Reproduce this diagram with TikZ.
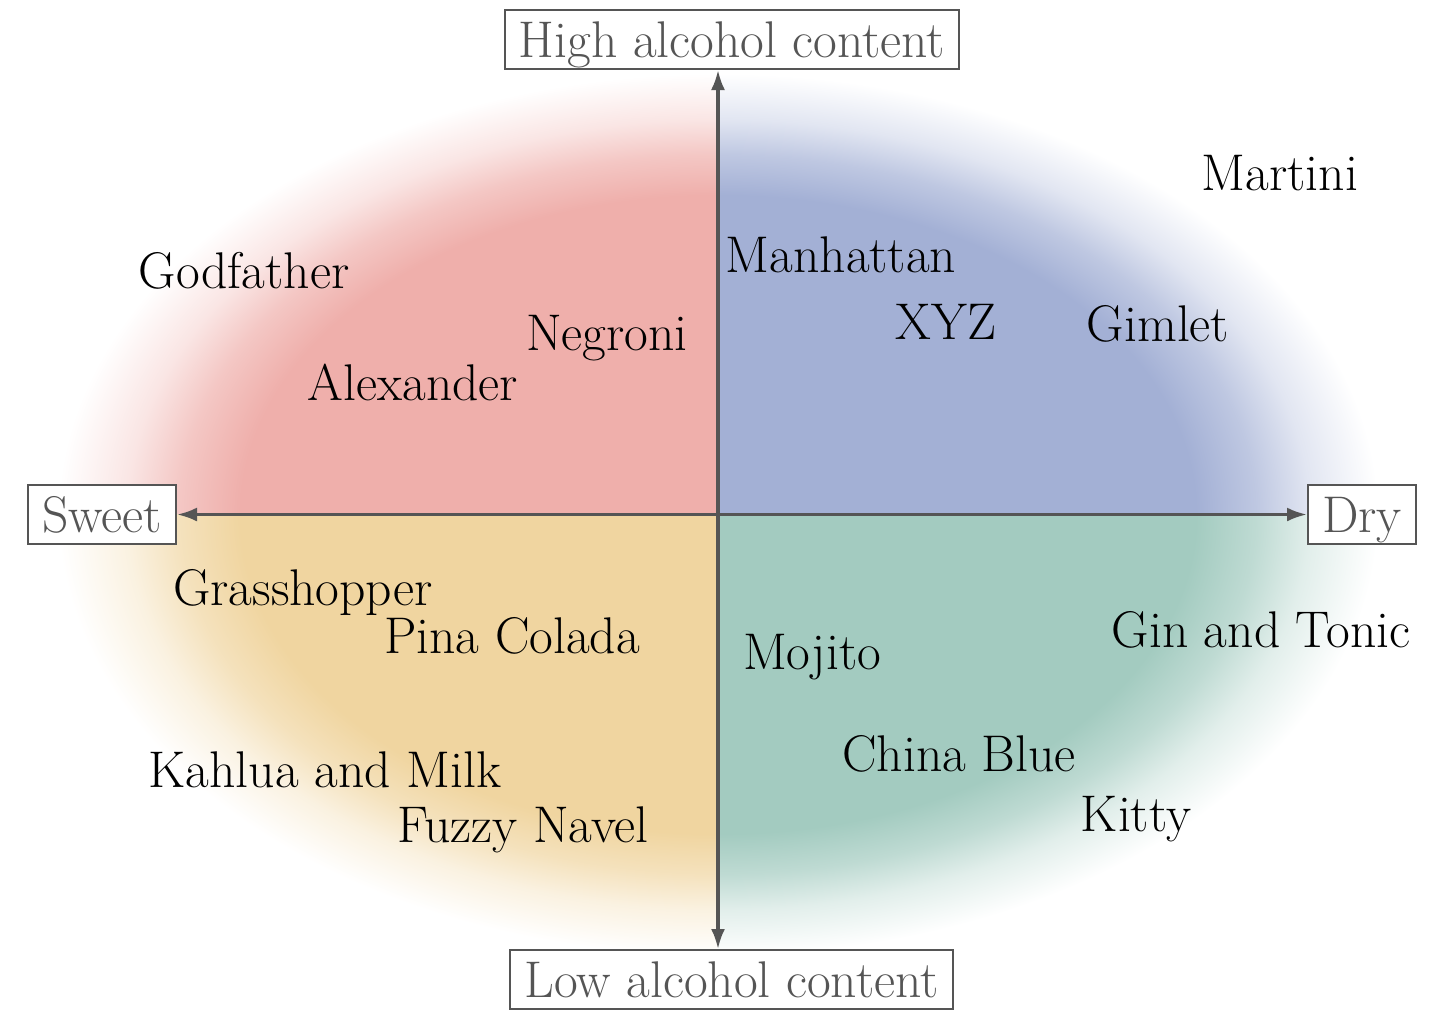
\documentclass[tikz,border=0pt]{standalone}
\usetikzlibrary{arrows.meta}

\definecolor{sweethigh}{HTML}{EFAFAB}
\definecolor{dryhigh}{HTML}{A3B0D5}
\definecolor{sweetlow}{HTML}{F0D5A0}
\definecolor{drylow}{HTML}{A3CBC0}
\definecolor{axisgray}{HTML}{555555}

% soft elliptic glow for one quadrant colour
\newcommand{\declareglow}[1]{%
  \colorlet{#1hi}{#1!70!white}%
  \colorlet{#1lo}{#1!32!white}%
  \pgfdeclareradialshading{glow#1}{\pgfpoint{0bp}{0bp}}{color(0bp)=(#1); color(18.1bp)=(#1); color(20.4bp)=(#1hi); color(22.4bp)=(#1lo); color(25bp)=(white); color(50bp)=(white)}}
\declareglow{sweethigh}
\declareglow{dryhigh}
\declareglow{sweetlow}
\declareglow{drylow}

\begin{document}
\begin{tikzpicture}[x=0.5pt,y=-0.5pt,
    axis line/.style={line width=1.6pt, axisgray},
    axisbox/.style={draw=axisgray, line width=1pt, fill=white, text=axisgray,
      font=\fontsize{25.8}{30}\selectfont, inner xsep=7pt, inner ysep=0pt,
      text height=23.5pt, text depth=6pt},
    drink/.style={font=\fontsize{25.8}{30}\selectfont, anchor=base, inner sep=0pt}]
  \useasboundingbox (0,0) rectangle (1440,1019);
  \coordinate (o) at (718,514.5);

  % background, one quadrant at a time
  \foreach \qx/\qy/\glow in {0/0/sweethigh, 1440/0/dryhigh, 0/1019/sweetlow, 1440/1019/drylow}{
    \begin{scope}
      \clip (o) rectangle (\qx,\qy);
      \shade[shading=glow\glow] (58,73.5) rectangle (1378,955.5);
    \end{scope}
  }

  \node[axisbox, anchor=south] (hi) at (732,70) {High alcohol content};
  \node[axisbox, anchor=north] (lo) at (731.5,949) {Low alcohol content};
  \node[axisbox, anchor=east] (sweet) at (177,514.5) {Sweet};
  \node[axisbox, anchor=west] (dry) at (1307,514.5) {Dry};

  \draw[{Latex[length=10pt,width=7pt]}-{Latex[length=10pt,width=7pt]}, axis line] (hi.south -| o) -- (lo.north -| o);
  \draw[{Latex[length=10pt,width=7pt]}-{Latex[length=10pt,width=7pt]}, axis line] (sweet.east) -- (dry.west);

  \node[drink] (martini) at (1280,190) {Martini};
  \node[drink] (godfather) at (244,288) {Godfather};
  \node[drink] (manhattan) at (841,272) {Manhattan};
  \node[drink] (xyz) at (946,339) {XYZ};
  \node[drink] (gimlet) at (1158,341) {Gimlet};
  \node[drink] (negroni) at (607,350) {Negroni};
  \node[drink] (alexander) at (413,400) {Alexander};
  \node[drink] (grasshopper) at (303,605) {Grasshopper};
  \node[drink] (pinacolada) at (512,653) {Pina Colada};
  \node[drink] (mojito) at (812,669) {Mojito};
  \node[drink] (gintonic) at (1261,647) {Gin and Tonic};
  \node[drink] (kahlua) at (325,787) {Kahlua and Milk};
  \node[drink] (chinablue) at (959,771) {China Blue};
  \node[drink] (kitty) at (1136,831) {Kitty};
  \node[drink] (fuzzynavel) at (523,842) {Fuzzy Navel};
\end{tikzpicture}
\end{document}
